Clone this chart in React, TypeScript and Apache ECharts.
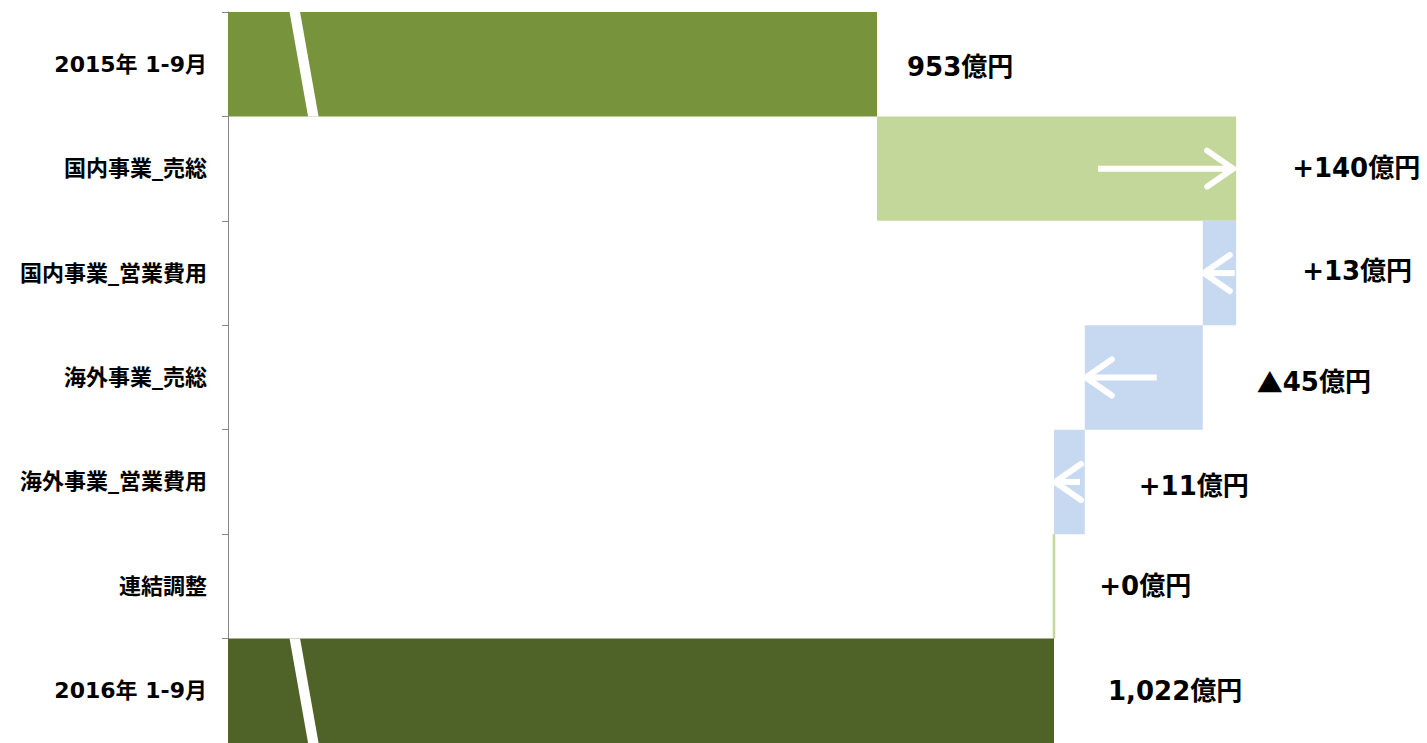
import React, { useEffect, useRef } from "react";
import * as echarts from "echarts";

const categories = [
  "2015年 1-9月",
  "国内事業_売総",
  "国内事業_営業費用",
  "海外事業_売総",
  "海外事業_営業費用",
  "連結調整",
  "2016年 1-9月",
];
const startValue = 953;
const changes = [140, -13, -46, -12, 0];
const endValue = 1022;
const valueLabels = ["953億円", "+140億円", "+13億円", "▲45億円", "+11億円", "+0億円", "1,022億円"];

// styling
const axisMin = 700;
const axisMax = 1160;
const breakValue = 724;
const colors = ["#77933C", "#C4D79B", "#C6D9F1", "#C6D9F1", "#C6D9F1", "#C4D79B", "#4F6228"];
const labelOffsets: [number, number][] = [[30, 3], [56, -1], [66, -2], [54, 4], [54, 4], [44, 0], [54, 0]];
const arrowLengths = [0, 135, 31, 71, 25, 0, 0];
const arrowInset = [0, 3, 1, 1, 1, 0, 0];

export default function App() {
  const ref = useRef<HTMLDivElement>(null);
  useEffect(() => {
    if (!ref.current) return;
    const chart = echarts.init(ref.current, null, { renderer: "svg" });

    const base: number[] = [0];
    const delta: number[] = [startValue];
    let level = startValue;
    changes.forEach((c) => {
      const next = level + c;
      base.push(Math.min(level, next));
      delta.push(Math.abs(c));
      level = next;
    });
    base.push(0);
    delta.push(endValue);

    const font = '"DejaVu Sans", "Noto Sans CJK JP", sans-serif';
    const cjk = '"Noto Sans CJK JP", sans-serif';

    chart.setOption({
      animation: false,
      grid: { left: 228, top: 12, right: 19, bottom: -2, containLabel: false },
      xAxis: {
        type: "value",
        min: axisMin,
        max: axisMax,
        show: false,
      },
      yAxis: {
        type: "category",
        inverse: true,
        data: categories,
        axisLine: { show: true, lineStyle: { color: "#868686", width: 1 } },
        axisTick: { show: true, length: 6, lineStyle: { color: "#868686" } },
        axisLabel: {
          margin: 21,
          color: "#000",
          fontSize: 22,
          fontWeight: "bold",
          fontFamily: font,
        },
        splitLine: { show: false },
      },
      series: [
        {
          type: "bar",
          stack: "wf",
          silent: true,
          barCategoryGap: 0,
          itemStyle: { color: "transparent" },
          data: base,
        },
        {
          type: "bar",
          stack: "wf",
          barCategoryGap: 0,
          data: delta.map((v, i) => ({
            value: v,
            itemStyle: {
              color: colors[i],
              borderColor: v === 0 ? colors[i] : "transparent",
              borderWidth: v === 0 ? 2.5 : 0,
            },
            label: {
              show: true,
              position: "right",
              distance: 0,
              offset: labelOffsets[i],
              formatter: valueLabels[i].replace("▲", "{t|▲}"),
              color: "#000",
              fontSize: 26,
              fontWeight: "bold",
              fontFamily: font,
              rich: {
                t: { fontFamily: cjk, fontSize: 26, fontWeight: "bold", color: "#000" },
              },
            },
          })),
        },
      ],
    });

    // decorations computed from the chart's scales
    const px = (v: number, i: number) => chart.convertToPixel({ gridIndex: 0 }, [v, i]) as number[];
    const band = px(axisMin, 1)[1] - px(axisMin, 0)[1];
    const graphics: any[] = [];
    [0, categories.length - 1].forEach((i) => {
      const [x, cy] = px(breakValue, i);
      const top = cy - band / 2;
      const bot = cy + band / 2;
      graphics.push({
        type: "polygon",
        z: 100,
        shape: { points: [[x, top], [x + 10.5, top], [x + 29, bot], [x + 18.5, bot]] },
        style: { fill: "#fff" },
        silent: true,
      });
    });
    let lv = startValue;
    changes.forEach((c, k) => {
      const i = k + 1;
      const next = lv + c;
      const len = arrowLengths[i];
      if (len > 0) {
        const right = c > 0;
        const [tx0, cy] = px(next, i);
        const tx = right ? tx0 - arrowInset[i] : tx0 + arrowInset[i];
        const dir = right ? -1 : 1;
        const tail = tx + dir * len;
        graphics.push({
          type: "line",
          z: 100,
          shape: { x1: tail, y1: cy, x2: tx + dir * 3, y2: cy },
          style: { stroke: "#fff", lineWidth: 6 },
          silent: true,
        });
        graphics.push({
          type: "polyline",
          z: 100,
          shape: { points: [[tx + dir * 26, cy - 18], [tx, cy], [tx + dir * 26, cy + 18]] },
          style: { stroke: "#fff", lineWidth: 6, lineCap: "round", lineJoin: "miter", fill: null },
          silent: true,
        });
      }
      lv = next;
    });
    chart.setOption({ graphic: { elements: graphics } });

    return () => chart.dispose();
  }, []);

  return (
    <div
      ref={ref}
      style={{ position: "absolute", left: 0, top: 0, width: 1427, height: 743 }}
    />
  );
}
